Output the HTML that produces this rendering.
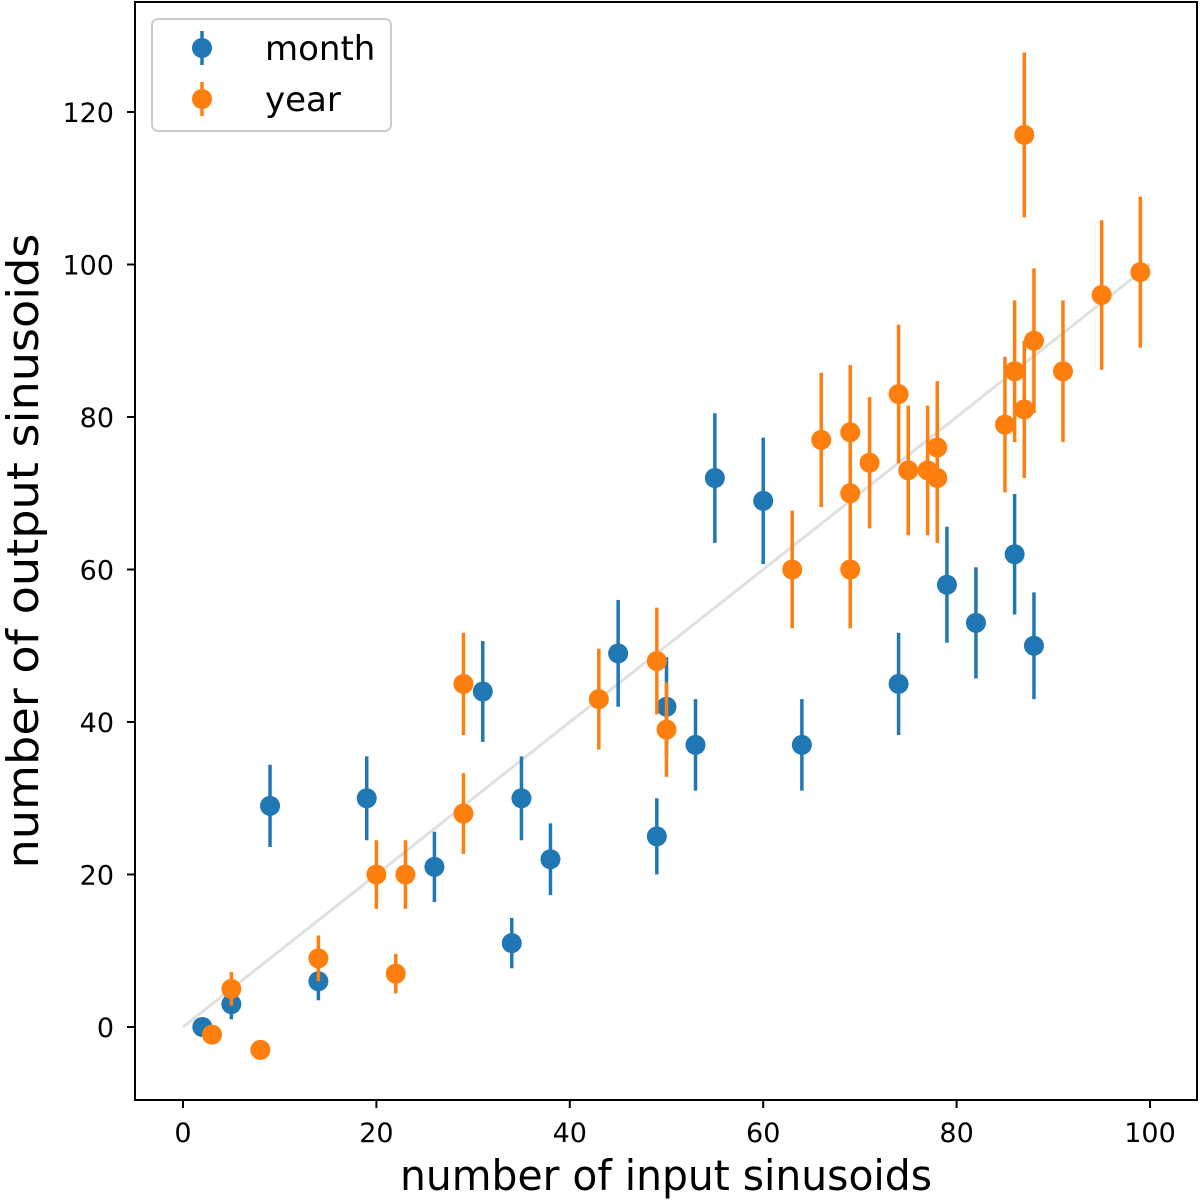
<!DOCTYPE html>
<html><head><meta charset="utf-8"><style>
html,body{margin:0;padding:0;background:#fff;}
svg{display:block;font-family:"DejaVu Sans","Liberation Sans",sans-serif;}
</style></head><body>
<svg id="chart" width="1200" height="1200" viewBox="0 0 1200 1200">
<rect x="0" y="0" width="1200" height="1200" fill="#fff"/>
<g id="plot"></g>
<rect x="135" y="2" width="1062" height="1098" fill="none" stroke="#000" stroke-width="2"/>
<g id="xticks"></g><g id="yticks"></g>
<text x="666" y="1190" font-size="42" text-anchor="middle" textLength="532" lengthAdjust="spacingAndGlyphs">number of input sinusoids</text>
<text x="0" y="0" font-size="44" text-anchor="middle" textLength="635" lengthAdjust="spacingAndGlyphs" transform="translate(38,551) rotate(-90)">number of output sinusoids</text>
<g>
<rect x="152" y="19" width="239" height="112" rx="6" fill="#fff" fill-opacity="0.8" stroke="#ccc" stroke-width="2"/>
<g><line x1="202" y1="31" x2="202" y2="65" stroke="#1f77b4" stroke-width="3.5"/><circle cx="202" cy="48" r="10" fill="#1f77b4"/><text x="265" y="60" font-size="34">month</text></g>
<g><line x1="202" y1="82" x2="202" y2="116" stroke="#ff7f0e" stroke-width="3.5"/><circle cx="202" cy="99" r="10" fill="#ff7f0e"/><text x="265" y="111" font-size="34">year</text></g>
</g>
</svg>
<script>
const monthX=[2,5,9,14,19,26,31,34,35,38,45,49,50,53,55,60,64,74,79,82,86,88];
const monthY=[0,3,29,6,30,21,44,11,30,22,49,25,42,37,72,69,37,45,58,53,62,50];
const monthErr=[0,2,5.4,2.5,5.5,4.6,6.6,3.3,5.5,4.7,7,5,6.5,6,8.5,8.3,6,6.7,7.6,7.3,7.9,7];
const yearX=[3,5,8,14,20,22,23,29,29,43,49,50,63,66,69,69,69,71,74,75,77,78,78,85,86,87,87,88,91,95,99];
const yearY=[-1,5,-3,9,20,7,20,45,28,43,48,39,60,77,78,70,60,74,83,73,73,76,72,79,86,117,81,90,86,96,99];
const yearErr=[0,2.2,0,3,4.5,2.6,4.5,6.7,5.3,6.6,7,6.2,7.7,8.8,8.8,8.4,7.7,8.6,9.1,8.5,8.5,8.7,8.5,8.9,9.3,10.8,9,9.5,9.3,9.8,9.9];
const xTicks=[0,20,40,60,80,100];
const yTicks=[0,20,40,60,80,100,120];
const NS="http://www.w3.org/2000/svg";
const sx=v=>183+v*9.67;
const sy=v=>1027-v*7.625;
function mk(tag,attrs,parent){const e=document.createElementNS(NS,tag);for(const k in attrs)e.setAttribute(k,attrs[k]);parent.appendChild(e);return e;}
const plot=document.getElementById('plot');
const ref=mk('line',{x1:sx(0),y1:sy(0),x2:sx(100),y2:sy(100),stroke:'#e0e0e0','stroke-width':3},plot);


function series(xs,ys,es,color,name){
  const g=mk('g',{},plot);
  
  
  for(let i=0;i<xs.length;i++){
    if(es[i]>0){
      const l=mk('line',{x1:sx(xs[i]),x2:sx(xs[i]),y1:sy(ys[i]-es[i]),y2:sy(ys[i]+es[i]),stroke:color,'stroke-width':3.5},g);
      
      
    }
    const c=mk('circle',{cx:sx(xs[i]),cy:sy(ys[i]),r:10,fill:color},g);
    
    
  }
}
series(monthX,monthY,monthErr,'#1f77b4','month');
series(yearX,yearY,yearErr,'#ff7f0e','year');
const xt=document.getElementById('xticks');
xTicks.forEach(t=>{
  const l=mk('line',{x1:sx(t),x2:sx(t),y1:1100,y2:1108,stroke:'#000','stroke-width':2},xt);
  
  
  const tx=mk('text',{x:sx(t),y:1142,'font-size':27,'text-anchor':'middle'},xt);
  tx.textContent=t;
  
  
});
const yt=document.getElementById('yticks');
yTicks.forEach(t=>{
  const l=mk('line',{x1:127,x2:135,y1:sy(t),y2:sy(t),stroke:'#000','stroke-width':2},yt);
  
  
  const tx=mk('text',{x:114,y:sy(t)+10,'font-size':27,'text-anchor':'end'},yt);
  tx.textContent=t;
  
  
});
</script>
</body></html>
